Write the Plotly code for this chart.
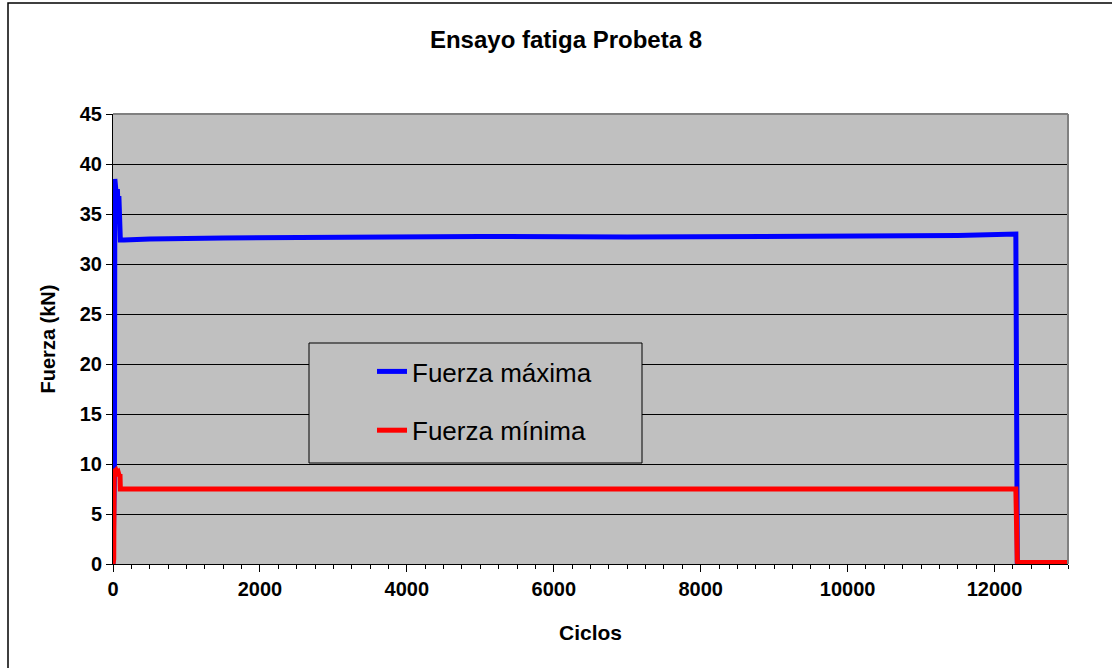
import plotly.graph_objects as go

# Data
ciclos_max = [0, 20, 25, 30, 40, 50, 60, 70, 80, 90, 95, 100, 150, 500, 1500, 3000,
              5000, 7000, 9000, 10000, 11500, 12290, 12300, 12310, 13000]
fuerza_max = [0, 9.5, 38.5, 37.8, 38.2, 36.5, 37.5, 35.0, 36.8, 34.5, 33.0, 32.4, 32.4,
              32.5, 32.6, 32.7, 32.75, 32.7, 32.75, 32.8, 32.85, 33.0, 0.2, 0.1, 0.1]

ciclos_min = [0, 10, 15, 25, 40, 55, 70, 85, 95, 100, 150, 2000, 4000, 6000, 8000,
              10000, 12290, 12310, 12320, 13000]
fuerza_min = [0, 0.5, 9.5, 9.3, 9.4, 9.1, 9.2, 8.8, 9.0, 7.5, 7.5, 7.5, 7.5, 7.5, 7.45,
              7.5, 7.5, 0.2, 0.15, 0.15]

x_ticks = [0, 2000, 4000, 6000, 8000, 10000, 12000]
x_ticklabels = ["0", "2000", "4000", "6000", "8000", "10000", "12000"]

title_text = "Ensayo fatiga Probeta 8"
x_title = "Ciclos"
y_title = "Fuerza (kN)"
name_max = "Fuerza máxima"
name_min = "Fuerza mínima"

FONT = "Arial, Liberation Sans, sans-serif"

fig = go.Figure()
fig.add_trace(go.Scatter(x=ciclos_max, y=fuerza_max, mode="lines", name=name_max,
                         line=dict(color="#0000FF", width=5), legendgroup="a"))
fig.add_trace(go.Scatter(x=ciclos_min, y=fuerza_min, mode="lines", name=name_min,
                         line=dict(color="#FF0000", width=5), legendgroup="b"))

W, H = 1112, 668
L, R, T, B = 113, 1068, 114, 564

def px(xp):
    return (xp - L) / (R - L)

def py(yp):
    return (B - yp) / (B - T)

fig.update_layout(
    width=W, height=H,
    margin=dict(l=L, r=W - R, t=T, b=H - B),
    paper_bgcolor="white",
    plot_bgcolor="#C0C0C0",
    font=dict(family=FONT, color="black"),
    title=dict(text="<b>" + title_text + "</b>", x=566 / W, xanchor="center",
               y=1 - 40 / H, yanchor="middle", yref="container",
               font=dict(size=24, family=FONT, color="black")),
    showlegend=True,
    legend=dict(x=px(372), y=py(348), xanchor="left", yanchor="top",
                bgcolor="rgba(0,0,0,0)", borderwidth=0,
                font=dict(size=26, family=FONT, color="black"),
                traceorder="grouped", tracegroupgap=22),
    xaxis=dict(range=[0, 13000], tickvals=x_ticks, ticktext=x_ticklabels,
               ticks="outside", ticklen=7, tickcolor="black", tickwidth=1,
               minor=dict(dtick=250, ticks="outside", ticklen=4, tickcolor="black",
                          tickwidth=1, showgrid=False),
               showgrid=False, zeroline=False, showline=True, linecolor="black",
               linewidth=1,
               tickfont=dict(size=20, family=FONT, color="black", weight="bold"),
               title=dict(text="<b>" + x_title + "</b>", standoff=26,
                          font=dict(size=21, family=FONT, color="black"))),
    yaxis=dict(range=[0, 45], dtick=5, tick0=0,
               ticks="outside", ticklen=6, tickcolor="black", tickwidth=1,
               showgrid=True, gridcolor="black", gridwidth=1,
               zeroline=False, showline=True, linecolor="black", linewidth=1,
               tickfont=dict(size=20, family=FONT, color="black", weight="bold"),
               title=dict(text="<b>" + y_title + "</b>", standoff=18,
                          font=dict(size=20, family=FONT, color="black"))),
)

shapes = [
    # plot area top & right border (gray)
    dict(type="line", xref="paper", yref="paper", x0=0, x1=1, y0=1, y1=1,
         line=dict(color="#808080", width=2), layer="above"),
    dict(type="line", xref="paper", yref="paper", x0=1, x1=1, y0=0, y1=1,
         line=dict(color="#808080", width=2), layer="above"),
    # legend box
    dict(type="rect", xref="paper", yref="paper", x0=px(309), x1=px(642),
         y0=py(463), y1=py(343), fillcolor="#C0C0C0",
         line=dict(color="black", width=1), layer="above"),
    # outer chart border
    dict(type="rect", xref="paper", yref="paper", x0=px(8), x1=px(1114),
         y0=py(670), y1=py(3), line=dict(color="black", width=1.5),
         fillcolor="rgba(0,0,0,0)", layer="above"),
]
fig.update_layout(shapes=shapes)

fig.write_html("out.html")
